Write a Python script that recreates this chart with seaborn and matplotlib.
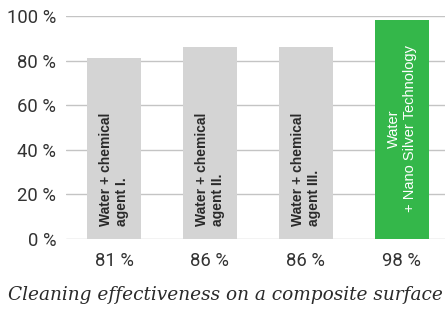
import matplotlib
matplotlib.use("Agg")
import matplotlib.pyplot as plt
import seaborn as sns
import pandas as pd

categories = ["Water + chemical\nagent I.", "Water + chemical\nagent II.",
              "Water + chemical\nagent III.", "Water\n+ Nano Silver Technology"]
values = [81, 86, 86, 98]
value_labels = ["81 %", "86 %", "86 %", "98 %"]
y_ticks = [0, 20, 40, 60, 80, 100]
y_tick_labels = ["0 %", "20 %", "40 %", "60 %", "80 %", "100 %"]
title = "Cleaning effectiveness on a composite surface"
bar_colors = ["#d4d4d4", "#d4d4d4", "#d4d4d4", "#34b74a"]

sns.set_theme(style="white")
plt.rcParams['font.family'] = ['Roboto', 'DejaVu Sans']

df = pd.DataFrame({"cat": categories, "val": values})

fig = plt.figure(figsize=(4.45, 3.10), dpi=100)
ax = fig.add_axes([66/445, 71/310, 1 - 66/445, (239-16)/310])

sns.barplot(data=df, x="cat", y="val", hue="cat", palette=bar_colors,
            width=0.5625, legend=False, ax=ax, saturation=1, linewidth=0)

ax.set_ylim(0, 100)
ax.set_xlim(-0.5, 3.45)
ax.set_yticks(y_ticks)
ax.set_yticklabels(y_tick_labels, fontsize=13.3, color="#333333")
ax.set_xticks(range(len(categories)))
ax.set_xticklabels(value_labels, fontsize=13.3, color="#333333")
ax.tick_params(axis="y", length=0, pad=7)
ax.tick_params(axis="x", length=0, pad=9)
ax.set_xlabel("")
ax.set_ylabel("")
ax.grid(axis="y", color="#c4c4c4", linewidth=1)
ax.set_axisbelow(True)
for s in ax.spines.values():
    s.set_visible(False)

for i, (lab, v) in enumerate(zip(categories, values)):
    if i < 3:
        ax.text(i, 6, lab, rotation=90, ha="center", va="bottom",
                multialignment="left", fontsize=10, fontweight="bold",
                color="#2a2a2a", family=["Liberation Sans", "DejaVu Sans"],
                linespacing=1.2)
    else:
        ax.text(i, 12, lab, rotation=90, ha="center", va="bottom",
                multialignment="center", fontsize=10.5,
                color="white", family=["Liberation Sans", "DejaVu Sans"],
                linespacing=1.2)

fig.text(225.5/445, (310-295)/310, title, ha="center", va="center",
         fontsize=13.3, style="italic", color="#2a2a2a",
         family=["DejaVu Serif"])

fig.savefig("out.png", dpi=100)
